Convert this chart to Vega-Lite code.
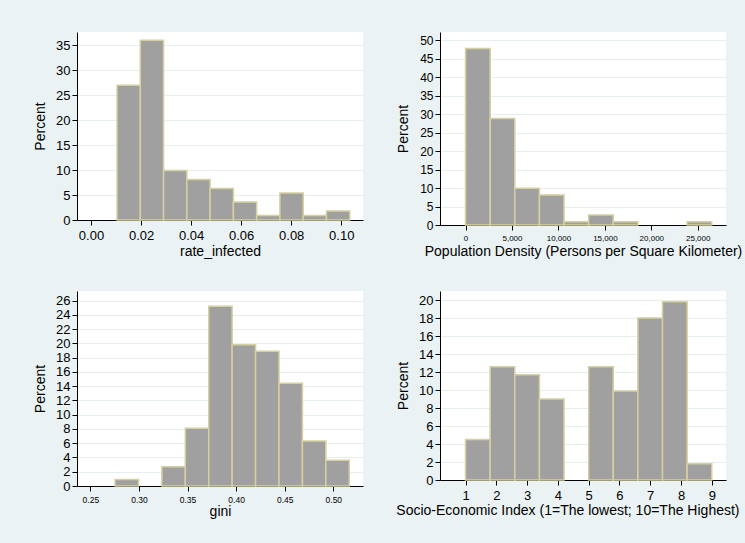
{
  "$schema": "https://vega.github.io/schema/vega-lite/v6.json",
  "background": "#EAF2F3",
  "padding": {"left": 33, "top": 32, "right": 3, "bottom": 32},
  "columns": 2,
  "spacing": {"row": 33, "column": 32},
  "config": {
    "font": "Liberation Sans",
    "view": {"fill": "white", "stroke": null},
    "axis": {"domainColor": "#000000", "tickColor": "#000000", "tickSize": 5, "labelColor": "#000000", "titleColor": "#000000", "titleFontWeight": "normal", "labelFontSize": 13, "titleFontSize": 14, "gridColor": "#E6EEF0", "labelPadding": 2},
    "axisY": {"minExtent": 25, "maxExtent": 25, "titlePadding": 5, "grid": true},
    "axisX": {"grid": false},
    "bar": {"fill": "#A0A0A0", "stroke": "#D6CFA0", "strokeWidth": 1.5, "orient": "vertical"}
  },
  "concat": [
    {
      "width": 286, "height": 188,
      "data": {"values": [
        {"lo": 0.0104, "hi": 0.0197, "pct": 27.03},
        {"lo": 0.0197, "hi": 0.0290, "pct": 36.04},
        {"lo": 0.0290, "hi": 0.0383, "pct": 9.91},
        {"lo": 0.0383, "hi": 0.0476, "pct": 8.11},
        {"lo": 0.0476, "hi": 0.0569, "pct": 6.31},
        {"lo": 0.0569, "hi": 0.0662, "pct": 3.60},
        {"lo": 0.0662, "hi": 0.0755, "pct": 0.90},
        {"lo": 0.0755, "hi": 0.0848, "pct": 5.41},
        {"lo": 0.0848, "hi": 0.0941, "pct": 0.90},
        {"lo": 0.0941, "hi": 0.1034, "pct": 1.80}
      ]},
      "mark": "bar",
      "encoding": {
        "x": {"field": "lo", "type": "quantitative", "scale": {"domain": [-0.0036, 0.1067], "nice": false, "zero": false}, "axis": {"title": "rate_infected", "values": [0, 0.02, 0.04, 0.06, 0.08, 0.1], "format": ".2f", "labelPadding": 4, "titlePadding": 2}},
        "x2": {"field": "hi"},
        "y": {"field": "pct", "type": "quantitative", "scale": {"domain": [0, 37.7], "nice": false}, "axis": {"title": "Percent", "values": [0, 5, 10, 15, 20, 25, 30, 35]}},
        "y2": {"datum": 0}
      }
    },
    {
      "width": 286, "height": 193,
      "data": {"values": [
        {"lo": 0, "hi": 2650, "pct": 47.75},
        {"lo": 2650, "hi": 5300, "pct": 28.83},
        {"lo": 5300, "hi": 7950, "pct": 9.91},
        {"lo": 7950, "hi": 10600, "pct": 8.11},
        {"lo": 10600, "hi": 13250, "pct": 0.90},
        {"lo": 13250, "hi": 15900, "pct": 2.70},
        {"lo": 15900, "hi": 18550, "pct": 0.90},
        {"lo": 23850, "hi": 26500, "pct": 0.90}
      ]},
      "mark": "bar",
      "encoding": {
        "x": {"field": "lo", "type": "quantitative", "scale": {"domain": [-2216, 27505], "nice": false, "zero": false}, "axis": {"title": "Population Density (Persons per Square Kilometer)", "values": [0, 5000, 10000, 15000, 20000, 25000], "format": ",.0f", "labelFontSize": 8, "labelPadding": 4, "titlePadding": 2}},
        "x2": {"field": "hi"},
        "y": {"field": "pct", "type": "quantitative", "scale": {"domain": [0, 52.2], "nice": false}, "axis": {"title": "Percent", "values": [0, 5, 10, 15, 20, 25, 30, 35, 40, 45, 50], "labelFontSize": 12}},
        "y2": {"datum": 0}
      }
    },
    {
      "width": 286, "height": 195,
      "data": {"values": [
        {"lo": 0.2754, "hi": 0.2995, "pct": 0.90},
        {"lo": 0.3236, "hi": 0.3477, "pct": 2.70},
        {"lo": 0.3477, "hi": 0.3718, "pct": 8.11},
        {"lo": 0.3718, "hi": 0.3959, "pct": 25.23},
        {"lo": 0.3959, "hi": 0.4200, "pct": 19.82},
        {"lo": 0.4200, "hi": 0.4441, "pct": 18.92},
        {"lo": 0.4441, "hi": 0.4682, "pct": 14.41},
        {"lo": 0.4682, "hi": 0.4923, "pct": 6.31},
        {"lo": 0.4923, "hi": 0.5164, "pct": 3.60}
      ]},
      "mark": "bar",
      "encoding": {
        "x": {"field": "lo", "type": "quantitative", "scale": {"domain": [0.2414, 0.5254], "nice": false, "zero": false}, "axis": {"title": "gini", "values": [0.25, 0.3, 0.35, 0.4, 0.45, 0.5], "format": ".2f", "labelFontSize": 8.5, "labelPadding": 4, "titlePadding": 1}},
        "x2": {"field": "hi"},
        "y": {"field": "pct", "type": "quantitative", "scale": {"domain": [0, 27.36], "nice": false}, "axis": {"title": "Percent", "values": [0, 2, 4, 6, 8, 10, 12, 14, 16, 18, 20, 22, 24, 26]}},
        "y2": {"datum": 0}
      }
    },
    {
      "width": 286, "height": 189,
      "data": {"values": [
        {"lo": 1.0, "hi": 1.8, "pct": 4.50},
        {"lo": 1.8, "hi": 2.6, "pct": 12.61},
        {"lo": 2.6, "hi": 3.4, "pct": 11.71},
        {"lo": 3.4, "hi": 4.2, "pct": 9.01},
        {"lo": 5.0, "hi": 5.8, "pct": 12.61},
        {"lo": 5.8, "hi": 6.6, "pct": 9.91},
        {"lo": 6.6, "hi": 7.4, "pct": 18.02},
        {"lo": 7.4, "hi": 8.2, "pct": 19.82},
        {"lo": 8.2, "hi": 9.0, "pct": 1.80}
      ]},
      "mark": "bar",
      "encoding": {
        "x": {"field": "lo", "type": "quantitative", "scale": {"domain": [0.333, 9.3], "nice": false, "zero": false}, "axis": {"title": "Socio-Economic Index (1=The lowest; 10=The Highest)", "values": [1, 2, 3, 4, 5, 6, 7, 8, 9], "format": "d", "labelPadding": 4, "titlePadding": 1, "titleX": 299, "titleAlign": "right"}},
        "x2": {"field": "hi"},
        "y": {"field": "pct", "type": "quantitative", "scale": {"domain": [0, 21.03], "nice": false}, "axis": {"title": "Percent", "values": [0, 2, 4, 6, 8, 10, 12, 14, 16, 18, 20]}},
        "y2": {"datum": 0}
      }
    }
  ]
}
